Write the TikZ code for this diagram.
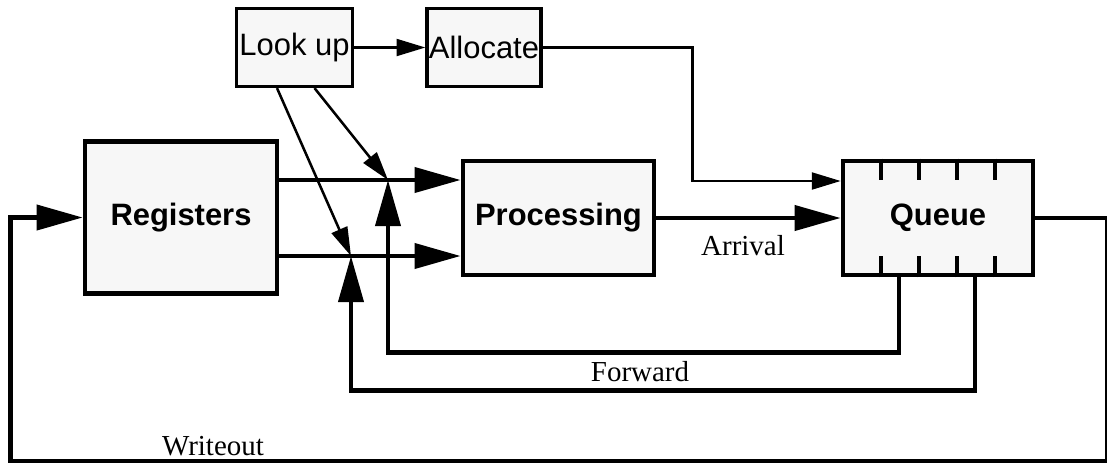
\documentclass[tikz,border=0pt]{standalone}
\usepackage{fontspec}
\setmainfont{Liberation Serif}
\setsansfont{Liberation Sans}
\usetikzlibrary{arrows.meta, positioning, calc}
\definecolor{boxgray}{RGB}{247,247,247}

\begin{document}
\begin{tikzpicture}[x=0.025cm, y=-0.025cm,
  big/.style={draw=black, fill=boxgray, line width=3.2pt,
    inner sep=0pt, font=\sffamily\bfseries\fontsize{22}{26}\selectfont},
  small/.style={draw=black, fill=boxgray, line width=2.2pt,
    inner sep=0pt, font=\sffamily\fontsize{22}{26}\selectfont},
  lbl/.style={font=\fontsize{20.6}{24}\selectfont, inner sep=0pt},
  thickarr/.style={-{Triangle[length=1.15cm, width=0.62cm]}, line width=3.2pt},
  thinarr/.style={-{Triangle[length=0.72cm, width=0.42cm]}, line width=1.8pt},
  tick/.style={line width=3.2pt}
]
\useasboundingbox (0,0) rectangle (1107,463);
% Top boxes
\node[small, minimum width=2.9cm, minimum height=1.95cm] (lookup) at (294.5,47.5) {Look up};
\node[small, minimum width=2.85cm, minimum height=1.95cm] (alloc) at (484,47.5) {Allocate};
% Main blocks
\node[big, minimum width=4.8cm, minimum height=3.8cm] (regs) at (181,217.5) {Registers};
\node[big, minimum width=4.78cm, minimum height=2.85cm] (proc) at (558.5,218) {Processing};
\node[big, minimum width=4.75cm, minimum height=2.85cm] (queue) at (938,218) {Queue};
% Queue slots
\foreach \dx in {-57,-19,19,57} {
  \draw[tick] ($(queue.north)+(\dx,0)$) -- ++(0,21);
  \draw[tick] ($(queue.south)+(\dx,0)$) -- ++(0,-21);
}
% Junctions
\coordinate (j1) at (388,180);
\coordinate (j2) at (351,256);
\coordinate (qin) at ($(queue.west)+(0,-37)$);
% Arrows
\draw[thinarr] (lookup.east) -- (alloc.west);
\draw[thinarr] (alloc.east) -- ++(150,0) |- (qin);
\draw[thinarr] ($(lookup.south)+(20,0)$) -- (j1);
\draw[thinarr] ($(lookup.south)+(-17.5,0)$) -- (j2);
\draw[thickarr] (regs.east |- j1) -- (proc.west |- j1);
\draw[thickarr] (regs.east |- j2) -- (proc.west |- j2);
\draw[thickarr] (proc.east) -- (queue.west)
  node[lbl, pos=0.47, below=11pt] (arrival) {Arrival};
\draw[thickarr] ($(queue.south)+(-39,0)$) -- ++(0,75) -| (j1);
\draw[thickarr] ($(queue.south)+(37,0)$) -- ++(0,113) -| (j2);
\draw[thickarr] (queue.east) -- ++(72,0) -- ++(0,243) -| ($(regs.west)+(-72,0)$) -- (regs.west);
% Labels
\node[lbl] (fwd) at (640,372) {Forward};
\node[lbl] (wout) at (213,446) {Writeout};
\end{tikzpicture}
\end{document}
